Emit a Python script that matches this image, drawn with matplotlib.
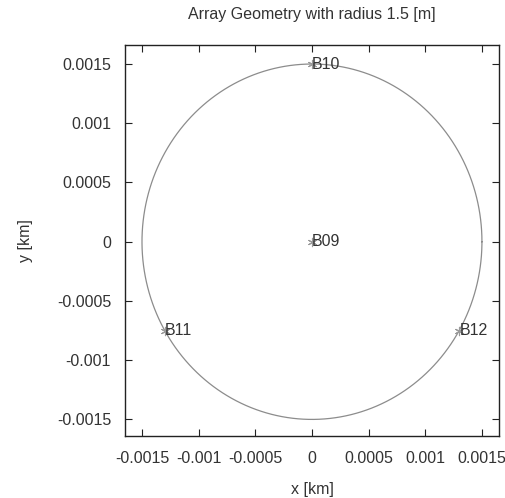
import numpy as np
import matplotlib
matplotlib.use("Agg")
import matplotlib.pyplot as plt

# ── DATA ──────────────────────────────────────────────────────────────────────
radius_km = 0.0015
station_names = ["B09", "B10", "B11", "B12"]
station_x = [0.0, 0.0, -0.0013, 0.0013]
station_y = [0.0, 0.0015, -0.00075, -0.00075]
xticks = [-0.0015, -0.001, -0.0005, 0, 0.0005, 0.001, 0.0015]
yticks = [-0.0015, -0.001, -0.0005, 0, 0.0005, 0.001, 0.0015]
tick_labels = ["-0.0015", "-0.001", "-0.0005", "0", "0.0005", "0.001", "0.0015"]

# ── PLOT ──────────────────────────────────────────────────────────────────────
plt.rcParams['font.family'] = ['Liberation Sans', 'DejaVu Sans']
plt.rcParams['font.size'] = 11.5

fig = plt.figure(figsize=(5.05, 4.98), dpi=100)
ax = fig.add_axes([0.2475, 0.1245, 0.7405, 0.785])

# array circle
theta = np.linspace(0, 2 * np.pi, 400)
ax.plot(radius_km * np.cos(theta), radius_km * np.sin(theta),
        color='#8c8c8c', linewidth=0.9)

# stations
ax.scatter(station_x, station_y, marker=(6, 2, 0), s=36,
           color='#9a9a9a', linewidths=0.8, zorder=3)
for name, x, y in zip(station_names, station_x, station_y):
    ax.text(x, y, name, ha='left', va='center', fontsize=11.5, color='#333333')

ax.set_xlim(-0.00165, 0.00165)
ax.set_ylim(-0.00164, 0.00166)
ax.set_xticks(xticks)
ax.set_xticklabels(tick_labels)
ax.set_yticks(yticks)
ax.set_yticklabels(tick_labels)
ax.tick_params(direction='in', length=5, width=0.8, top=True, right=True,
               colors='#222222', labelcolor='#333333')
ax.tick_params(axis='x', pad=11)
ax.tick_params(axis='y', pad=10)
for sp in ax.spines.values():
    sp.set_linewidth(1.0)
    sp.set_color('#222222')

ax.set_xlabel("x [km]", labelpad=11, color='#333333')
ax.set_ylabel("y [km]", labelpad=17, color='#333333')
ax.set_title("Array Geometry with radius 1.5 [m]", fontsize=11.5, pad=19,
             color='#333333')

fig.savefig("out.png", dpi=100)
